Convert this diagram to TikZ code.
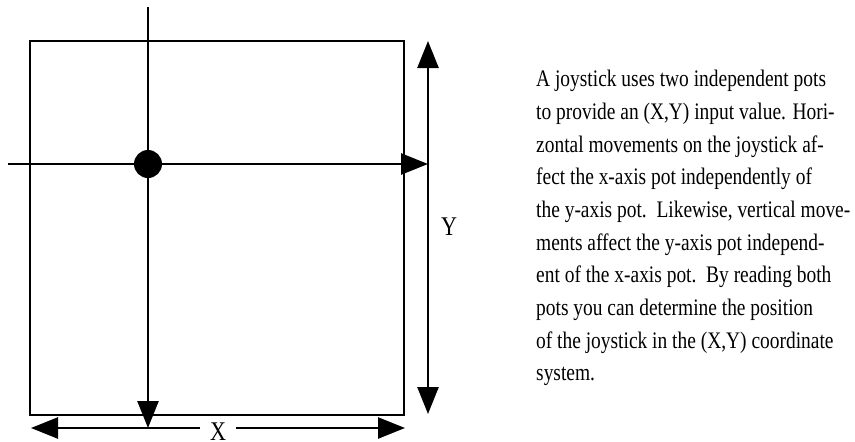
\documentclass[tikz,border=0pt]{standalone}
\usepackage{fontspec}
\setmainfont{Liberation Serif}
\newfontfamily\notefont{Liberation Serif}[FakeStretch=0.82]
\usetikzlibrary{arrows.meta}

\begin{document}
\begin{tikzpicture}[x=1pt,y=-1pt]
  \tikzset{axisline/.style={draw=black,line width=2.6pt}}
  \tikzset{axisarrow/.style={axisline,-{Triangle[length=27pt,width=21pt]}}}
  \tikzset{knobdot/.style={circle,fill=black,draw=none,inner sep=0pt,minimum size=28pt}}
  \tikzset{axislabel/.style={inner sep=0pt,font=\notefont\fontsize{27}{27}\selectfont}}

  \useasboundingbox (0,0) rectangle (855,442);

  % joystick field
  \node[draw=black,line width=2.6pt,minimum width=374pt,minimum height=374pt,inner sep=0pt] (field) at (217,228) {};

  \coordinate (vtop)   at (148,7);
  \coordinate (vbot)   at (148,428);
  \coordinate (hleft)  at (8,164);
  \coordinate (hright) at (428,164);
  \coordinate (ytop)   at (428,41);
  \coordinate (ybot)   at (428,414);
  \coordinate (xleft)  at (31,428);
  \coordinate (xright) at (405,428);
  \coordinate (xgapl)  at (200,428);
  \coordinate (xgapr)  at (236,428);

  \draw[axisarrow] (hleft) -- (hright);
  \draw[axisarrow] (vtop) -- (vbot);
  \node[knobdot] (knob) at (148,164) {};

  \draw[axisline,{Triangle[length=27pt,width=21pt]}-{Triangle[length=27pt,width=21pt]}] (ytop) -- (ybot);
  \draw[axisarrow] (xgapl) -- (xleft);
  \draw[axisarrow] (xgapr) -- (xright);

  \node[axislabel] (xlab) at (218,432) {X};
  \node[axislabel] (ylab) at (449,227) {Y};

  \node[anchor=north west,inner sep=0pt,align=left,
        font=\notefont\fontsize{23.7}{32.7}\selectfont] (note) at (536,70)
    {A joystick uses two independent pots\\
     to provide an (X,Y) input value. Hori-\\
     zontal movements on the joystick af-\\
     fect the x-axis pot independently of\\
     the y-axis pot.\ \ Likewise, vertical move-\\
     ments affect the y-axis pot independ-\\
     ent of the x-axis pot.\ \ By reading both\\
     pots you can determine the position\\
     of the joystick in the (X,Y) coordinate\\
     system.};
\end{tikzpicture}
\end{document}
